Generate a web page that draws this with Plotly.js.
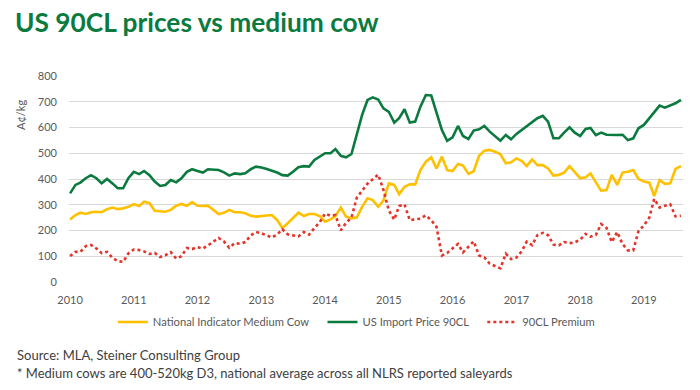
<!DOCTYPE html>
<html>
<head>
<meta charset="utf-8">
<script src="https://cdn.plot.ly/plotly-3.0.1.min.js"></script>
<style>html,body{margin:0;padding:0;background:#fff;}#chart{width:700px;height:390px;}</style>
</head>
<body>
<div id="chart"></div>
<script>
const startYear = 2010;
const yearLabels = ["2010","2011","2012","2013","2014","2015","2016","2017","2018","2019"];
const seriesNames = ["National Indicator Medium Cow", "US Import Price 90CL", "90CL Premium"];

const usImport90CL = [
  344,377,386,403,415,403,383,400,383,364,364,403,
  428,419,431,415,390,373,377,396,387,403,428,438,
  431,425,438,435,435,426,413,422,419,422,438,448,
  445,439,433,425,415,413,428,446,450,448,474,488,
  500,500,516,490,484,497,577,649,707,717,709,674,
  661,619,636,671,619,623,681,726,724,655,590,548,
  562,606,567,555,588,593,606,584,567,549,571,554,
  575,590,607,619,636,645,623,558,558,580,601,580,
  567,594,598,570,580,572,571,571,572,551,558,597,
  610,636,657,685,677,685,694,707
];
const nationalMediumCow = [
  243,260,269,264,271,273,271,283,289,283,286,292,
  302,295,312,306,277,276,273,280,296,303,296,310,
  296,295,296,280,264,269,280,271,271,267,257,254,
  256,258,260,241,210,228,247,269,256,264,264,256,
  234,243,256,289,254,247,250,292,325,318,292,316,
  383,377,341,370,379,379,435,467,484,441,487,435,
  431,458,452,420,430,490,510,513,506,496,461,465,
  480,470,450,476,454,454,441,413,416,425,450,426,
  403,407,422,387,355,357,416,377,425,428,435,400,
  390,386,334,396,381,383,439,450
];
const premium90CL = [
  101,117,117,139,144,130,112,117,94,81,78,111,
  126,124,119,109,113,97,104,116,91,100,132,128,
  135,130,142,155,171,157,133,151,148,155,181,194,
  189,181,173,184,205,185,181,177,194,184,210,232,
  266,257,260,201,230,250,327,357,382,399,417,358,
  278,242,295,301,240,244,246,259,240,214,103,113,
  131,148,115,135,158,103,96,71,61,53,110,89,
  95,120,157,143,182,191,182,145,142,155,151,154,
  164,187,176,183,225,210,155,194,147,123,123,197,
  220,250,323,289,296,302,255,257
];

const months = usImport90CL.map((_, i) => {
  const y = startYear + Math.floor(i / 12);
  const m = (i % 12) + 1;
  return y + "-" + (m < 10 ? "0" + m : m) + "-01";
});
const tickVals = yearLabels.map(y => y + "-01-01");
const pad = "\u00a0\u00a0\u00a0";

const FONT = "Lato, 'Open Sans', sans-serif";
const traces = [
  {x: months, y: nationalMediumCow, type: "scatter", mode: "lines", name: seriesNames[0] + pad,
   line: {color: "#ffc000", width: 2.6}},
  {x: months, y: usImport90CL, type: "scatter", mode: "lines", name: seriesNames[1] + pad,
   line: {color: "#0b7a3f", width: 2.6}},
  {x: months, y: premium90CL, type: "scatter", mode: "lines", name: seriesNames[2],
   line: {color: "#e4342a", width: 2.6, dash: "dot"}}
];

const layout = {
  width: 700, height: 390,
  margin: {l: 69, r: 17, t: 76, b: 108},
  paper_bgcolor: "#ffffff", plot_bgcolor: "#ffffff",
  font: {family: FONT, color: "#595959", size: 11},
  title: {text: "<b>US 90CL prices vs medium cow</b>", font: {family: FONT, size: 26.3, color: "#0b7a3f"},
          xref: "container", yref: "container", x: 15/700, xanchor: "left", y: 1 - 23/390, yanchor: "middle"},
  showlegend: true,
  legend: {orientation: "h", x: 0.468, xanchor: "center", y: -0.194, yanchor: "middle",
           font: {family: FONT, size: 11.2, color: "#595959"}, itemwidth: 30, tracegroupgap: 0},
  xaxis: {type: "date", range: ["2009-12-26", "2019-08-13"], tickvals: tickVals, ticktext: yearLabels,
          showgrid: false, zeroline: false, showline: false, ticks: "", ticklabelstandoff: 10,
          tickfont: {size: 11, color: "#595959"}},
  yaxis: {range: [0, 800], dtick: 100, tick0: 0, gridcolor: "#d9d9d9", gridwidth: 1, zeroline: false,
          showline: false, ticks: "", ticklabelstandoff: 11, tickfont: {size: 11, color: "#595959"}},
  annotations: [
    {text: "A¢/kg", xref: "paper", yref: "paper", x: (20 - 69)/614, y: (282 - 115)/206, textangle: -90,
     showarrow: false, xanchor: "center", yanchor: "middle", font: {size: 11, color: "#595959"}},
    {text: "Source: MLA, Steiner Consulting Group", xref: "paper", yref: "paper", x: (15 - 69)/614, y: (282 - 355)/206,
     showarrow: false, xanchor: "left", yanchor: "middle", font: {size: 13, color: "#404040"}},
    {text: "* Medium cows are 400-520kg D3, national average across all NLRS reported saleyards", xref: "paper", yref: "paper",
     x: (15 - 69)/614, y: (282 - 373)/206, showarrow: false, xanchor: "left", yanchor: "middle", font: {size: 13, color: "#404040"}}
  ]
};

Plotly.newPlot("chart", traces, layout, {staticPlot: true, displayModeBar: false});
</script>
</body>
</html>
